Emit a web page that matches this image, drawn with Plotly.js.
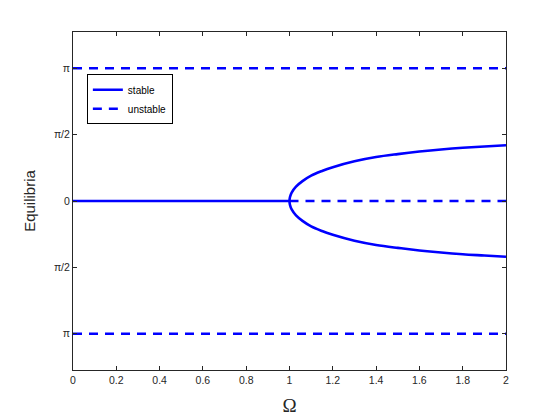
<!DOCTYPE html>
<html>
<head>
<meta charset="utf-8">
<script src="https://cdn.plot.ly/plotly-2.35.2.min.js"></script>
<style>html,body{margin:0;padding:0;background:#fff;}#plot{width:560px;height:420px;}</style>
</head>
<body>
<div id="plot"></div>
<script>
// Values
var stableOmegaLow = [0, 1];
var stableThetaLow = [0, 0];
var branchOmega = [1.0, 1.002, 1.01, 1.03, 1.06, 1.1, 1.15, 1.2, 1.3, 1.4, 1.5, 1.6, 1.7, 1.8, 1.9, 2.0];
var branchTheta = [0, 0.09, 0.20, 0.34, 0.47, 0.60, 0.71, 0.80, 0.94, 1.04, 1.11, 1.17, 1.22, 1.26, 1.29, 1.32];
var unstableOmegaMid = [1, 2];
var unstableThetaMid = [0, 0];
var unstableOmegaPi = [0, 2];
var unstableThetaTop = [Math.PI, Math.PI];
var unstableThetaBot = [-Math.PI, -Math.PI];
var xTicks = [0, 0.2, 0.4, 0.6, 0.8, 1, 1.2, 1.4, 1.6, 1.8, 2];
var xTickText = ['0', '0.2', '0.4', '0.6', '0.8', '1', '1.2', '1.4', '1.6', '1.8', '2'];
var yTicks = [-Math.PI, -Math.PI / 2, 0, Math.PI / 2, Math.PI];
var yTickText = ['π', 'π/2', '0', 'π/2', 'π'];

var blue = '#0000ff';
var dash = '9px,7px';

// full branch (lower reversed then upper)
var bx = branchOmega.slice().reverse().concat(branchOmega.slice(1));
var by = branchTheta.slice().reverse().map(function (v) { return -v; }).concat(branchTheta.slice(1));

var traces = [
  {x: stableOmegaLow, y: stableThetaLow, mode: 'lines', name: 'stable', line: {color: blue, width: 2.6}, showlegend: true, legendgroup: 's'},
  {x: bx, y: by, mode: 'lines', name: 'stable', line: {color: blue, width: 2.6, shape: 'spline', smoothing: 1}, showlegend: false, legendgroup: 's'},
  {x: unstableOmegaMid, y: unstableThetaMid, mode: 'lines', name: 'unstable', line: {color: blue, width: 2.6, dash: dash}, showlegend: true, legendgroup: 'u'},
  {x: unstableOmegaPi, y: unstableThetaTop, mode: 'lines', name: 'unstable', line: {color: blue, width: 2.6, dash: dash}, showlegend: false, legendgroup: 'u'},
  {x: unstableOmegaPi, y: unstableThetaBot, mode: 'lines', name: 'unstable', line: {color: blue, width: 2.6, dash: dash}, showlegend: false, legendgroup: 'u'}
];

var tickFont = {family: 'Liberation Sans, Arial, sans-serif', size: 10.5, color: '#262626'};
var axisCommon = {
  showgrid: false, zeroline: false, showline: true, mirror: 'ticks',
  linecolor: '#262626', linewidth: 1, ticks: 'inside', ticklen: 4, tickcolor: '#262626', tickwidth: 1,
  tickfont: tickFont, tickmode: 'array'
};

var layout = {
  width: 560, height: 420,
  margin: {l: 73, r: 54, t: 32, b: 50},
  paper_bgcolor: '#ffffff', plot_bgcolor: '#ffffff',
  showlegend: true,
  legend: {
    x: 0.032, y: 0.875, xanchor: 'left', yanchor: 'top',
    bordercolor: '#000000', borderwidth: 1, bgcolor: '#ffffff',
    font: {family: 'Liberation Sans, Arial, sans-serif', size: 10, color: '#000'},
    tracegroupgap: 0, itemwidth: 30
  },
  xaxis: Object.assign({}, axisCommon, {
    range: [0, 2], tickvals: xTicks, ticktext: xTickText,
    title: {text: 'Ω', font: {family: 'Liberation Serif, Times New Roman, serif', size: 19, color: '#262626'}, standoff: 14}
  }),
  yaxis: Object.assign({}, axisCommon, {
    range: [-4, 4], tickvals: yTicks, ticktext: yTickText,
    title: {text: 'Equilibria', font: {family: 'Liberation Sans, Arial, sans-serif', size: 15, color: '#262626'}, standoff: 14}
  })
};

Plotly.newPlot('plot', traces, layout, {displayModeBar: false, staticPlot: true});
</script>
</body>
</html>
